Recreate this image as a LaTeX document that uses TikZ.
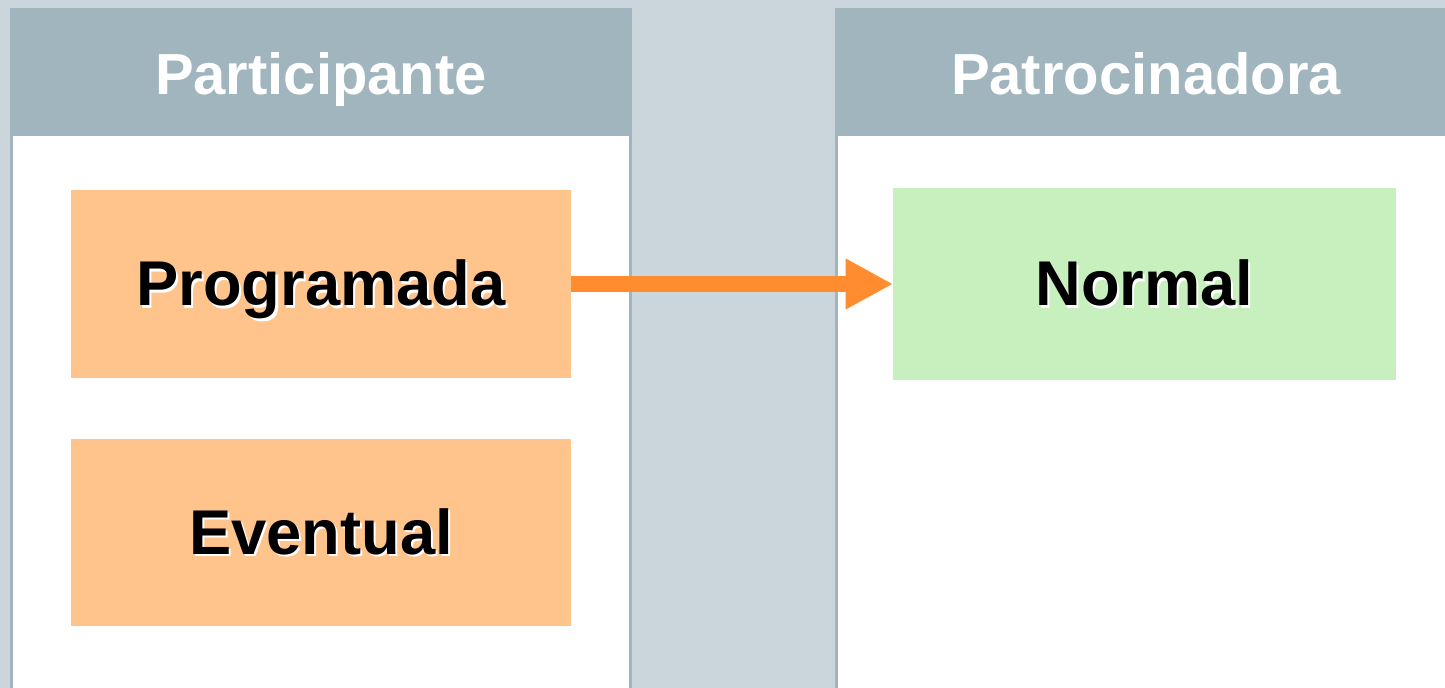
\documentclass[tikz,border=0pt]{standalone}
\usepackage{fontspec}
\setmainfont{Liberation Sans}
\usepackage{tikz}
\usetikzlibrary{arrows.meta, positioning}

\definecolor{backgr}{HTML}{CAD6DC}
\definecolor{headgr}{HTML}{A0B5BD}
\definecolor{boxorange}{HTML}{FFC48C}
\definecolor{boxgreen}{HTML}{C8F0BF}
\definecolor{arroworange}{HTML}{FF8C2E}

\newcommand{\shadowed}[1]{\makebox[0pt][l]{\hspace{1.2pt}\raisebox{-1.2pt}{\color{white}#1}}#1}

\tikzset{
  header/.style={fill=headgr, text=white, inner sep=0pt, outer sep=0pt,
    minimum width=12.44cm, minimum height=2.54cm,
    text height=26.6pt, text depth=0pt,
    font=\fontsize{33}{36}\selectfont\bfseries},
  kindbox/.style={inner sep=0pt, outer sep=0pt,
    minimum width=10cm, minimum height=3.76cm,
    text height=25pt, text depth=0pt,
    font=\fontsize{36}{40}\selectfont\bfseries},
}

\begin{document}
\begin{tikzpicture}[x=0.02cm, y=-0.02cm]
  \useasboundingbox (0,0) rectangle (1445,688);
  \fill[backgr] (0,0) rectangle (1445,688);
  % panels
  \fill[headgr] (10,8) rectangle (632,688);
  \fill[white] (13,136) rectangle (629,688);
  \fill[headgr] (835,8) rectangle (1457,688);
  \fill[white] (838,136) rectangle (1454,688);
  \node[header] (part) at (321,71.5) {Participante};
  \node[header] (patr) at (1146,71.5) {Patrocinadora};
  % kinds
  \node[kindbox, fill=boxorange] (prog) at (321,284) {\shadowed{Programada}};
  \node[kindbox, fill=boxorange] (even) at (321,532.5) {\shadowed{Eventual}};
  \node[kindbox, fill=boxgreen, minimum width=10.06cm, minimum height=3.84cm] (norm) at (1144.5,284) {\shadowed{Normal}};
  \draw[arroworange, line width=9pt, -{Triangle[length=27pt, width=27pt]}] (prog.east) -- (norm.west);
\end{tikzpicture}
\end{document}
